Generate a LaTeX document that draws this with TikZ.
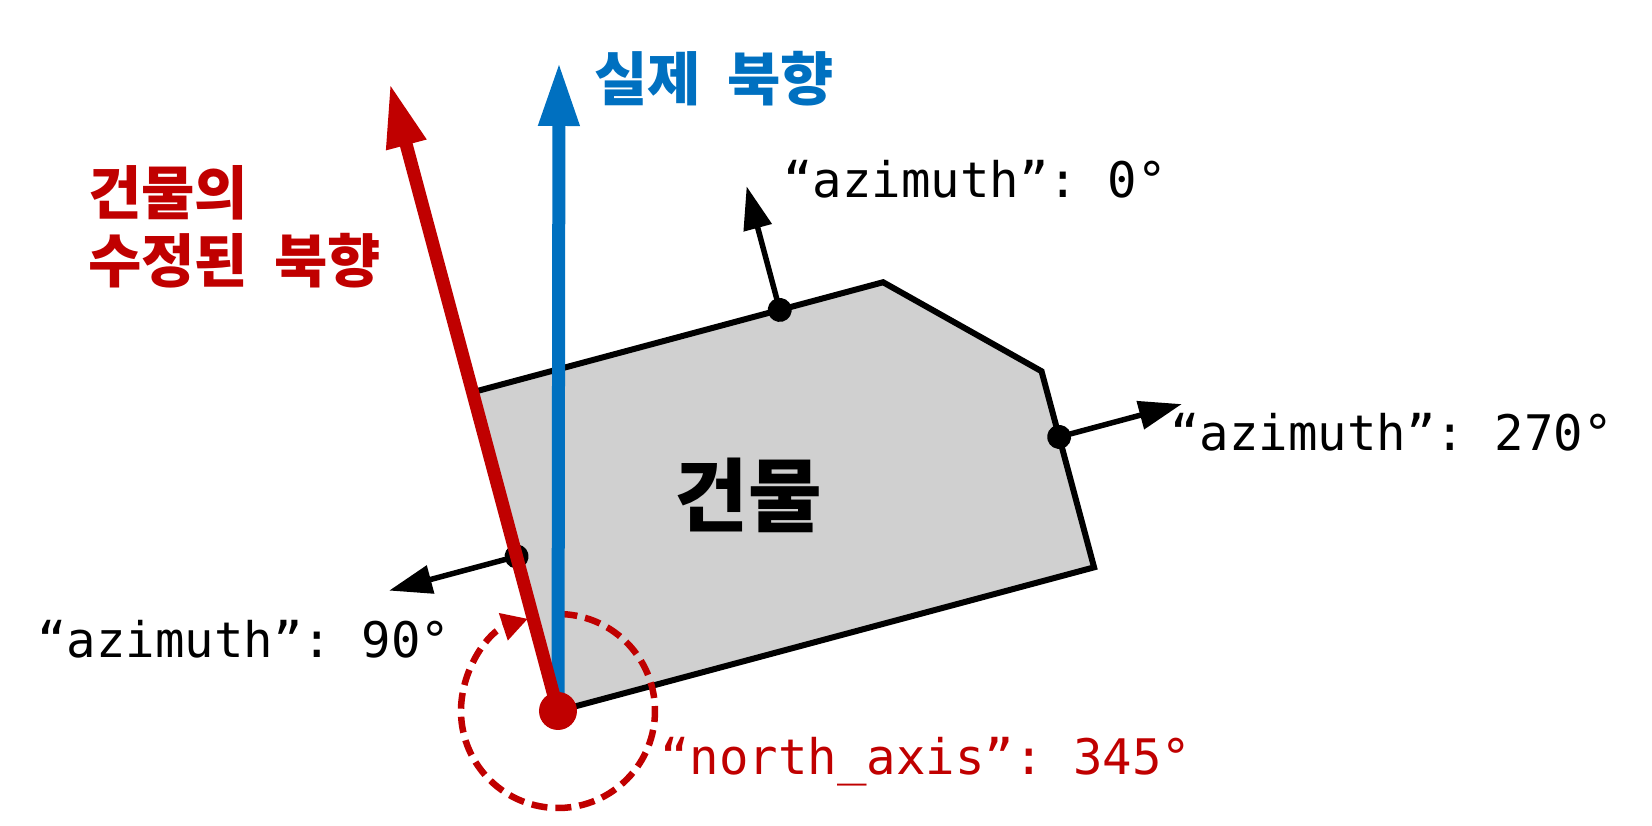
\documentclass[tikz,border=0pt]{standalone}
\usepackage{fontspec}
\setmonofont{DejaVu Sans Mono}
\newfontfamily\korfont{Noto Sans CJK KR}
\newcommand\korwide{\spaceskip 0.45em\relax}
\usetikzlibrary{arrows.meta}
\definecolor{northred}{HTML}{C00000}
\definecolor{northblue}{HTML}{0070C0}
\definecolor{bldgray}{HTML}{D0D0D0}

\begin{document}
\begin{tikzpicture}[x=1pt,y=1pt]
  \tikzstyle{az}=[font=\fontsize{49}{58}\selectfont\ttfamily,inner sep=0pt,anchor=base west]
  \tikzstyle{kor}=[font=\fontsize{58}{68}\selectfont\korfont\bfseries,inner sep=0pt]
  \tikzstyle{azarrow}=[line width=5.5pt,-{Triangle[length=43pt,width=28pt]}]
  \tikzstyle{northarrow}=[line width=13pt,-{Triangle[length=64pt,width=38pt]}]
  \useasboundingbox (-558,-115) rectangle (1094,711);
  \coordinate (o) at (0,0);
  % building, turned by 15 degrees
  \begin{scope}[rotate=15]
    \filldraw[fill=bldgray,line width=6pt,line join=miter]
      (0,0) -- (0,330) -- (425,330) -- (555,203) -- (555,0) -- cycle;
    \coordinate (ptop) at (318,330);
    \coordinate (ptopend) at (318,458);
    \coordinate (pright) at (555,135);
    \coordinate (prightend) at (682,135);
    \coordinate (pleft) at (0,160);
    \coordinate (pleftend) at (-132,160);
    \draw[azarrow] (ptop) -- (ptopend);
    \draw[azarrow] (pright) -- (prightend);
    \draw[azarrow] (pleft) -- (pleftend);
    \fill (ptop) circle (12);
    \fill (pright) circle (12);
    \fill (pleft) circle (12);
  \end{scope}
  \node[font=\fontsize{80}{90}\selectfont\korfont\bfseries] (bldname) at (190,216) {건물};
  % angle from true north
  \draw[northred,line width=6.5pt,dash pattern=on 16pt off 8pt,-{Triangle[length=26pt,width=27pt]}]
    (o) ++(88:97) arc[start angle=88,end angle=-252,radius=97];
  \coordinate (truenorth) at (1,649);
  \coordinate (bldnorth) at (105:650);
  \draw[northblue,northarrow] (o) -- (truenorth);
  \draw[northred,northarrow] (o) -- (bldnorth);
  \fill[northred] (o) circle (19);
  % labels
  \node[kor,text=northblue,anchor=base west] (truetext) at (36,610) {\korwide 실제 북향};
  \node[kor,text=northred,align=left,anchor=west] (bldtext) at (-470,484) {\korwide 건물의\\\korwide 수정된 북향};
  \node[az] (az0) at (225,513) {“azimuth”: 0°};
  \node[az] (az270) at (612,260) {“azimuth”: 270°};
  \node[az] (az90) at (-521,53) {“azimuth”: 90°};
  \node[az,text=northred] (axistext) at (102,-64) {“north\_axis”: 345°};
\end{tikzpicture}
\end{document}
